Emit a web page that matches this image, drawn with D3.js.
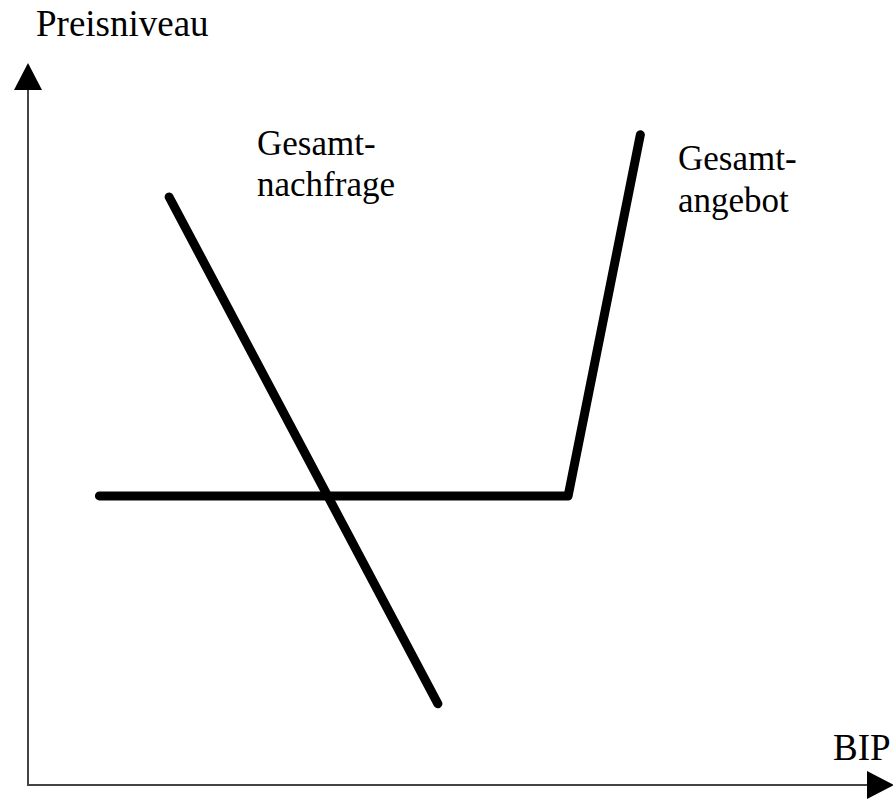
<!DOCTYPE html>
<html><head><meta charset="utf-8">
<script src="https://cdn.jsdelivr.net/npm/d3@7"></script>
<style>body{margin:0;background:#fff}svg{display:block}</style>
</head><body>
<script>
const supplyX = [8.5, 64.3, 72.9];
const supplyY = [41.3, 41.3, 92.9];
const demandX = [16.8, 48.8];
const demandY = [84.0, 11.6];
const axisLabels = ["Preisniveau", "BIP"];
const curveLabels = [["Gesamt-", "nachfrage"], ["Gesamt-", "angebot"]];

const W = 893, H = 799;
const FONT = "'Liberation Serif', 'Times New Roman', Times, Tinos, serif";
const svg = d3.select("body").append("svg").attr("width", W).attr("height", H);
const x = d3.scaleLinear().domain([0, 100]).range([28, 868]);
const y = d3.scaleLinear().domain([0, 100]).range([785, 85]);

// axes
svg.append("line").attr("x1", x(0)).attr("x2", x(100)).attr("y1", y(0)).attr("y2", y(0))
  .attr("stroke", "#444").attr("stroke-width", 2);
svg.append("line").attr("x1", x(0)).attr("x2", x(0)).attr("y1", y(0)+1).attr("y2", y(100)+5)
  .attr("stroke", "#444").attr("stroke-width", 2);
// arrowheads
svg.append("path").attr("d", `M${x(0)-14},${y(100)+5} L${x(0)+14},${y(100)+5} L${x(0)},${y(100)-22} Z`).attr("fill", "#000");
svg.append("path").attr("d", `M${x(100)-1},${y(0)-14} L${x(100)-1},${y(0)+14} L${x(100)+26},${y(0)} Z`).attr("fill", "#000");

const line = d3.line().x(d => x(d[0])).y(d => y(d[1]));
svg.append("path").attr("d", line(supplyX.map((v, i) => [v, supplyY[i]])))
  .attr("fill", "none").attr("stroke", "#000").attr("stroke-width", 9)
  .attr("stroke-linecap", "round").attr("stroke-linejoin", "round");
svg.append("path").attr("d", line(demandX.map((v, i) => [v, demandY[i]])))
  .attr("fill", "none").attr("stroke", "#000").attr("stroke-width", 9)
  .attr("stroke-linecap", "round");

function txt(xp, yp, lines, fs, gap) {
  const t = svg.append("text").attr("font-family", FONT).attr("font-size", fs).attr("fill", "#000");
  lines.forEach((s, i) => t.append("tspan").attr("x", xp).attr("y", yp + i*gap).text(s));
}
txt(36, 36, [axisLabels[0]], 37, 0);
txt(833, 760, [axisLabels[1]], 37, 0);
txt(257, 155, curveLabels[0], 35, 41);
txt(678, 170, curveLabels[1], 35, 42);
</script>
</body></html>
